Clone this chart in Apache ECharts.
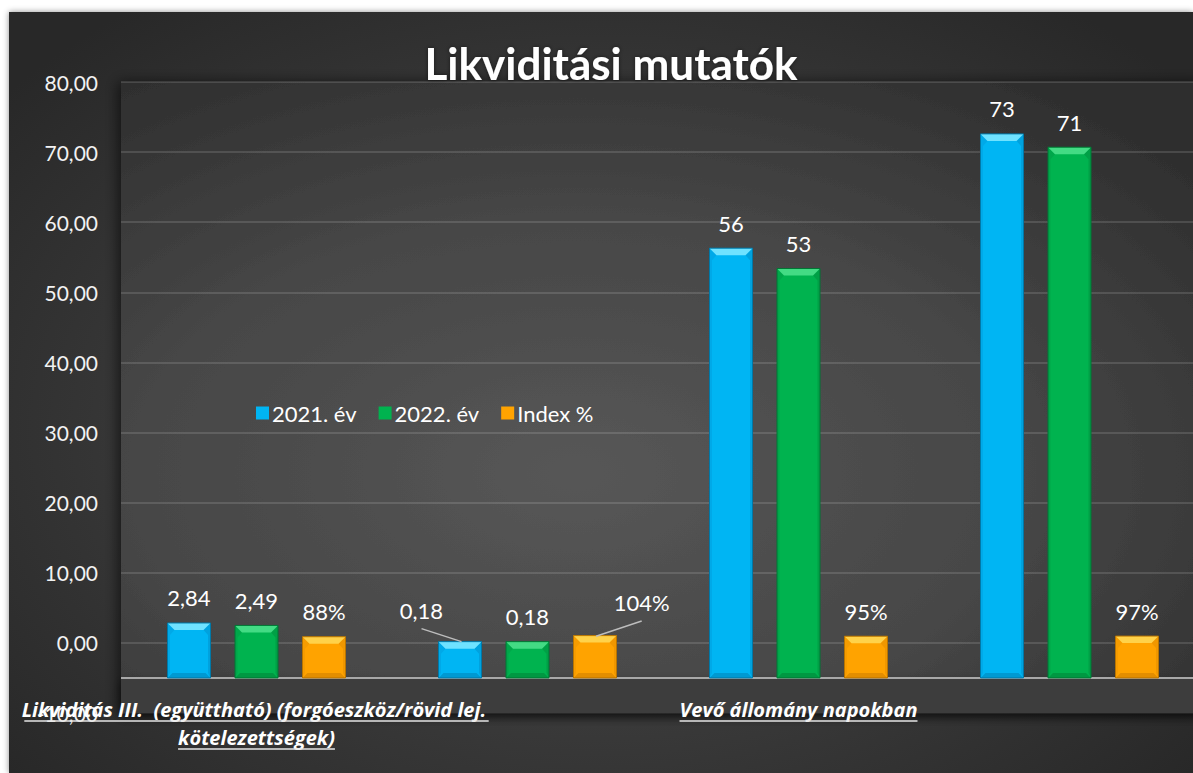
<!DOCTYPE html>
<html><head><meta charset="utf-8">
<script src="https://cdn.jsdelivr.net/npm/echarts@6/dist/echarts.min.js"></script>
<style>
html,body{margin:0;padding:0;background:#fff;overflow:hidden;}
#bg{position:absolute;left:9px;top:12px;width:1184px;height:761px;
 background:radial-gradient(ellipse 65% 70% at 50% 55%, #4a4a4a 0%, #3b3b3b 50%, #282828 100%);
 box-shadow:0 0 6px rgba(0,0,0,0.45);}
#chart{position:absolute;left:0;top:0;width:1193px;height:773px;}
</style></head><body><div id="bg"></div><div id="chart"></div>
<script>
// ---- data ----
const categories = [
  'Likviditás III.  (együttható) (forgóeszköz/rövid lej. kötelezettségek)',
  '',
  'Vevő állomány napokban',
  ''
];
const seriesNames = ['2021. év', '2022. év', 'Index %'];
const values2021 = [2.84, 0.18, 56.3, 72.6];
const values2022 = [2.49, 0.18, 53.4, 70.7];
const indexValues = [0.88, 1.04, 0.95, 0.97];
const labelDecimals = [2, 2, 0, 0];
const yMin = -10, yMax = 80, yInterval = 10;

// ---- styling ----
const FLOOR = -5;
const BAR_W_RATIO = 43 / 271;
const BAR_OFFSETS = [-67.5 / 271, 0, 67.5 / 271];
const PALETTE = [
  {main:'#00b5f3', top:'#6fe2ff', left:'#00a9e8', right:'#00a2de', bottom:'#0099d2', stroke:'#0079a8'},
  {main:'#00b34f', top:'#43db84', left:'#00a74a', right:'#00a046', bottom:'#009842', stroke:'#007734'},
  {main:'#ffa300', top:'#ffd24a', left:'#f69c00', right:'#f09700', bottom:'#e38e00', stroke:'#b87400'}
];
// label displacement for crowded labels [series-category]
const LABEL_MOVES = {
  '0-1': {dx:-38.5, dy:-31, ls:[-38.5,-13], le:[1.5,0]},
  '2-1': {dx:46.7, dy:-32.6, ls:[46.7,-14.6], le:[1,0.7]}
};
const FONT = 'Lato, "Open Sans", sans-serif';
const XFONT_FAMILY = '"Open Sans", Lato, sans-serif';

function fmtLabel(s, i, v) {
  if (s === 2) return Math.round(v * 100) + '%';
  return v.toFixed(labelDecimals[i]).replace('.', ',');
}

function makeBarRender(s) {
  return function (params, api) {
    const i = api.value(0), v = api.value(1);
    const band = api.size([1, 0])[0];
    const p = api.coord([i, v]);
    const base = api.coord([i, FLOOR]);
    const w = band * BAR_W_RATIO;
    const cx = p[0] + BAR_OFFSETS[s] * band;
    const x0 = cx - w / 2, x1 = cx + w / 2, yT = p[1], yB = base[1];
    const h = yB - yT;
    const bt = Math.min(7, h / 2), bs = Math.min(2.5, h / 2), bb = Math.min(5, h / 2);
    const c = PALETTE[s];
    const children = [
      {type:'rect', shape:{x:x0, y:yT, width:w, height:h}, style:{fill:c.main}},
      {type:'polygon', shape:{points:[[x0,yB],[x0+bb,yB-bb],[x1-bb,yB-bb],[x1,yB]]}, style:{fill:c.bottom}},
      {type:'polygon', shape:{points:[[x0,yT],[x0+bt,yT+bt],[x0+bs,yT+bt+5],[x0+bs,yB-bb],[x0,yB]]}, style:{fill:c.left}},
      {type:'polygon', shape:{points:[[x1,yT],[x1-bt,yT+bt],[x1-bs,yT+bt+5],[x1-bs,yB-bb],[x1,yB]]}, style:{fill:c.right}},
      {type:'polygon', shape:{points:[[x0,yT],[x1,yT],[x1-bt,yT+bt],[x0+bt,yT+bt]]}, style:{fill:c.top}},
      {type:'rect', shape:{x:x0, y:yT, width:w, height:h}, style:{fill:'none', stroke:c.stroke, lineWidth:1}}
    ];
    const mv = LABEL_MOVES[s + '-' + i];
    let lx = cx, ly = yT - 25;
    if (mv) {
      lx = cx + mv.dx; ly = yT + mv.dy;
      children.push({type:'line', shape:{x1:cx+mv.ls[0], y1:yT+mv.ls[1], x2:cx+mv.le[0], y2:yT+mv.le[1]},
        style:{stroke:'#bdbdbd', lineWidth:1.5}});
    }
    children.push({type:'text', style:{text:fmtLabel(s, i, v), x:lx, y:ly, fill:'#ffffff',
      font:'22px ' + FONT, align:'center', verticalAlign:'middle', textAlign:'center', textVerticalAlign:'middle'}});
    return {type:'group', children};
  };
}

// text width measuring for underlines
const mctx = document.createElement('canvas').getContext('2d');
const XFONT = 'italic bold 20px ' + XFONT_FAMILY;
const XLABEL_WIDTH = 560;
function wrapLines(text) {
  mctx.font = XFONT;
  const words = text.split(' ');
  const lines = [];
  let cur = '';
  for (const wd of words) {
    const test = cur === '' ? wd : cur + ' ' + wd;
    if (mctx.measureText(test).width > XLABEL_WIDTH && cur !== '') { lines.push(cur); cur = wd; }
    else cur = test;
  }
  if (cur !== '') lines.push(cur);
  return lines.map(l => mctx.measureText(l).width);
}

function floorRender(params, api) {
  const cs = params.coordSys;
  const yF = api.coord([0, FLOOR])[1];
  const yBot = api.coord([0, yMin])[1];
  const children = [
    {type:'rect', shape:{x:cs.x, y:yF, width:cs.width, height:yBot-yF},
      style:{fill:'#3c3c3c', shadowBlur:10, shadowColor:'rgba(0,0,0,0.55)', shadowOffsetY:4}},
    {type:'line', shape:{x1:cs.x, y1:yF, x2:cs.x+cs.width, y2:yF}, style:{stroke:'#a8a8a8', lineWidth:2}}
  ];
  return {type:'group', children};
}

function underlineRender(params, api) {
  const yBot = api.coord([0, yMin])[1];
  const children = [];
  categories.forEach((cat, ci) => {
    if (!cat) return;
    const cx = api.coord([ci, 0])[0];
    const widths = wrapLines(cat);
    widths.forEach((wd, li) => {
      const uy = yBot + 8 + li * 28;
      children.push({type:'line', shape:{x1:cx-wd/2, y1:uy, x2:cx+wd/2, y2:uy},
        style:{stroke:'#e6e6e6', lineWidth:1.5}});
    });
  });
  return {type:'group', children};
}

const chart = echarts.init(document.getElementById('chart'), null, {renderer:'svg'});
const seriesValues = [values2021, values2022, indexValues];
const option = {
  animation: false,
  title: {
    text: 'Likviditási mutatók', left: 606, top: 36, textAlign: 'center',
    textStyle: {color:'#ffffff', fontSize:44, fontWeight:'bold', fontFamily:FONT,
      textShadowColor:'rgba(0,0,0,0.5)', textShadowBlur:4}
  },
  legend: {
    data: seriesNames, left: 256, top: 402, icon: 'rect', itemWidth: 13, itemHeight: 13,
    itemGap: 22, padding: 0,
    textStyle: {color:'#ffffff', fontSize:22, fontFamily:FONT, padding:[0,0,0,-2]}
  },
  grid: {
    left: 121, right: -12, top: 82, bottom: 60, show: true, borderWidth: 0,
    outerBoundsMode: 'none', containLabel: false,
    backgroundColor: new echarts.graphic.RadialGradient(0.42, 0.62, 0.75, [
      {offset:0, color:'#575757'}, {offset:0.55, color:'#464646'}, {offset:1, color:'#2e2e2e'}]),
    shadowBlur: 14, shadowColor: 'rgba(0,0,0,0.6)', shadowOffsetX: -3
  },
  xAxis: {
    type: 'category', data: categories, z: 10,
    axisLine: {show:false}, axisTick: {show:false}, splitLine: {show:false},
    axisLabel: {interval:0, color:'#ffffff', fontSize:20, fontStyle:'italic', fontWeight:'bold',
      fontFamily:XFONT_FAMILY, lineHeight:28, margin:-18, width:XLABEL_WIDTH, overflow:'break',
      hideOverlap:false}
  },
  yAxis: {
    type: 'value', min: yMin, max: yMax, interval: yInterval,
    axisLine: {show:false}, axisTick: {show:false},
    splitLine: {lineStyle:{color:'rgba(255,255,255,0.13)', width:2}},
    axisLabel: {color:'#f2f2f2', fontSize:21, fontFamily:FONT, margin:23,
      formatter: v => v.toFixed(2).replace('.', ',')}
  },
  series: [
    {type:'custom', name:'floor', silent:true, z:1, renderItem: floorRender, data:[[0, FLOOR]],
      encode:{x:0, y:1}},
    {type:'custom', name:'underline', silent:true, z:12, renderItem: underlineRender, data:[[0, FLOOR]],
      encode:{x:0, y:1}, clip:false}
  ].concat(seriesNames.map((nm, s) => ({
    type:'custom', name:nm, z:3,
    itemStyle:{color:PALETTE[s].main},
    renderItem: makeBarRender(s),
    encode:{x:0, y:1},
    data: seriesValues[s].map((v, i) => [i, v])
  })))
};
chart.setOption(option);
</script>
</body></html>
